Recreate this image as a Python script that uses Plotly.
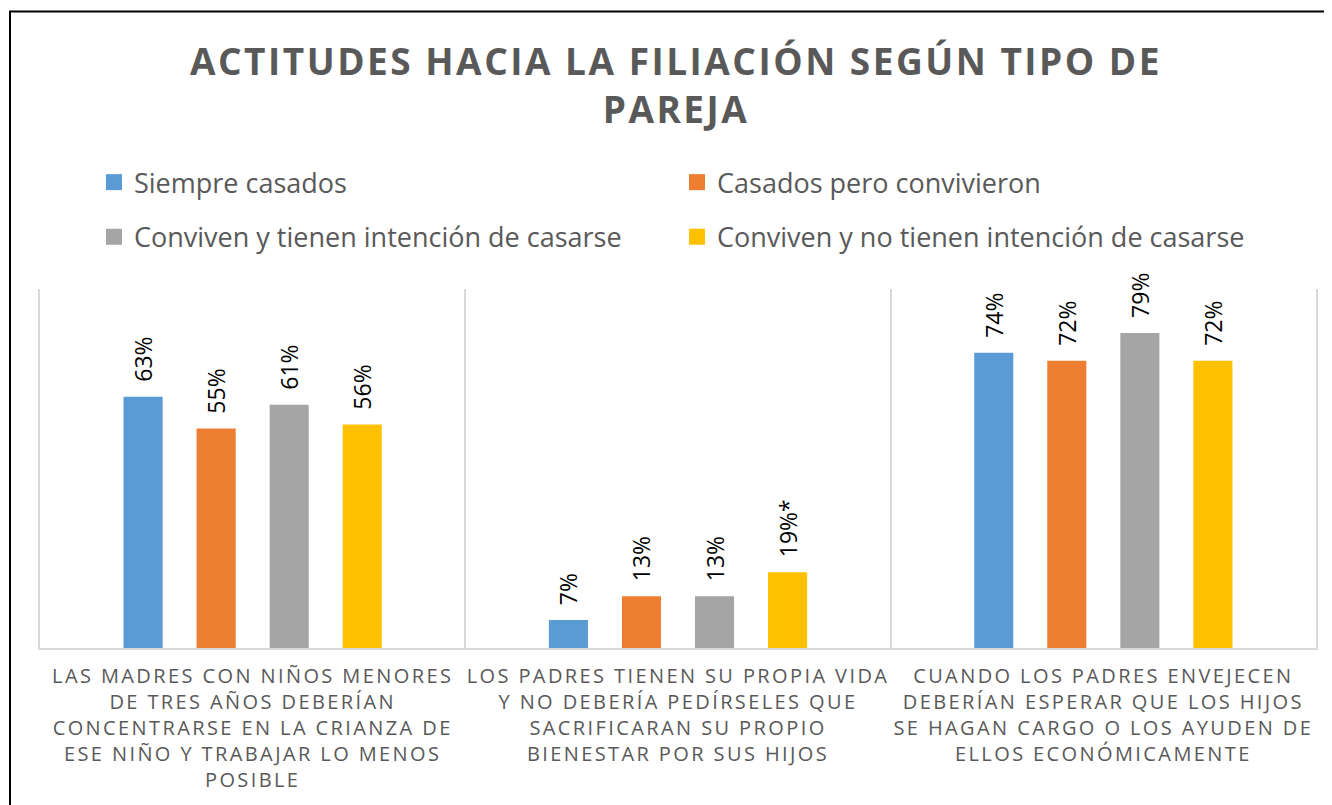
import plotly.graph_objects as go

categories = [
    "LAS MADRES CON NIÑOS MENORES<br>DE TRES AÑOS DEBERÍAN<br>CONCENTRARSE EN LA CRIANZA DE<br>ESE NIÑO Y TRABAJAR LO MENOS<br>POSIBLE",
    "LOS PADRES TIENEN SU PROPIA VIDA<br>Y NO DEBERÍA PEDÍRSELES QUE<br>SACRIFICARAN SU PROPIO<br>BIENESTAR POR SUS HIJOS",
    "CUANDO LOS PADRES ENVEJECEN<br>DEBERÍAN ESPERAR QUE LOS HIJOS<br>SE HAGAN CARGO O LOS AYUDEN DE<br>ELLOS ECONÓMICAMENTE",
]
series_names = [
    "Siempre casados",
    "Casados pero convivieron",
    "Conviven y tienen intención de casarse",
    "Conviven y no tienen intención de casarse",
]
siempre_casados = [0.63, 0.07, 0.74]
casados_convivieron = [0.55, 0.13, 0.72]
conviven_intencion = [0.61, 0.13, 0.79]
conviven_no_intencion = [0.56, 0.19, 0.72]
labels_siempre = ["63%", "7%", "74%"]
labels_casados = ["55%", "13%", "72%"]
labels_intencion = ["61%", "13%", "79%"]
labels_no_intencion = ["56%", "19%*", "72%"]

values = [siempre_casados, casados_convivieron, conviven_intencion, conviven_no_intencion]
labels = [labels_siempre, labels_casados, labels_intencion, labels_no_intencion]
colors = ["#5B9BD5", "#ED7D31", "#A5A5A5", "#FFC000"]
legends = ["legend", "legend", "legend2", "legend2"]

TXT = "#595959"
FONT = "Open Sans"

fig = go.Figure()
for name, vals, labs, col, lg in zip(series_names, values, labels, colors, legends):
    fig.add_trace(go.Bar(
        name=name, x=categories, y=vals, text=labs,
        texttemplate="\u00a0\u00a0%{text}",
        textposition="outside", textangle=-90, constraintext="none",
        textfont=dict(family=FONT, size=23, color="#000000"),
        marker=dict(color=col, line=dict(width=0)),
        cliponaxis=False, showlegend=False, legendgroup=name,
    ))
# legend entries (square swatches, same series)
for name, col, lg in zip(series_names, colors, legends):
    fig.add_trace(go.Scatter(
        name=name, x=[None], y=[None], mode="markers",
        marker=dict(symbol="square", size=16, color=col, line=dict(width=0)),
        showlegend=True, legend=lg, legendgroup=name, hoverinfo="skip",
    ))

# page is offset by the 8px body margin
W, H = 1324, 797
L, R, T, B = 32, 16, 281, 155
ph = H - T - B
pw = W - L - R

def py(ypix):
    return (H - B - ypix) / ph

def px(xpix):
    return (xpix - L) / pw

legend_common = dict(
    orientation="h", xanchor="left", yanchor="middle",
    entrywidth=538, entrywidthmode="pixels", itemsizing="trace",
    font=dict(family=FONT, size=27, color=TXT), bgcolor="rgba(0,0,0,0)",
)

fig.update_layout(
    width=W, height=H,
    margin=dict(l=L, r=R, t=T, b=B),
    paper_bgcolor="white", plot_bgcolor="white",
    barmode="group", bargap=0.313, bargroupgap=0.465,
    title=dict(
        text="ACTITUDES HACIA LA FILIACIÓN SEGÚN TIPO DE<br>PAREJA",
        font=dict(family=FONT, size=37, color=TXT, weight="bold"),
        x=668 / W, xanchor="center", xref="container",
        y=(H - 67) / H, yanchor="top", yref="container",
    ),
    font=dict(family=FONT, color=TXT),
    legend=dict(x=px(86), y=py(174), **legend_common),
    legend2=dict(x=px(86), y=py(229), **legend_common),
    xaxis=dict(
        tickson="boundaries", showgrid=True, gridcolor="#D9D9D9", gridwidth=1.5,
        showline=True, linecolor="#D9D9D9", linewidth=1.5,
        ticks="", range=[-0.5, 2.5],
        tickfont=dict(family=FONT, size=20, color=TXT),
        ticklabelstandoff=9,
    ),
    yaxis=dict(
        range=[0, 0.9], showticklabels=False, ticks="", showgrid=False, zeroline=False,
        showline=True, mirror=True, linecolor="#D9D9D9", linewidth=1.5,
    ),
    showlegend=True,
    shapes=[dict(
        type="rect", xref="paper", yref="paper",
        x0=px(2), x1=px(1345), y0=py(815), y1=py(2),
        line=dict(color="#000000", width=2), fillcolor="rgba(0,0,0,0)", layer="above",
    )],
)

post = """
var gd = document.getElementById('{plot_id}');
function ls(){
  gd.querySelectorAll('.gtitle').forEach(function(t){ t.style.letterSpacing='2.5px'; });
  gd.querySelectorAll('.xtick text').forEach(function(t){ t.style.letterSpacing='2.4px'; });
}
ls();
if (gd.on) { gd.on('plotly_afterplot', ls); }
setTimeout(ls, 50);
"""

fig.write_html("out.html", post_script=post)
